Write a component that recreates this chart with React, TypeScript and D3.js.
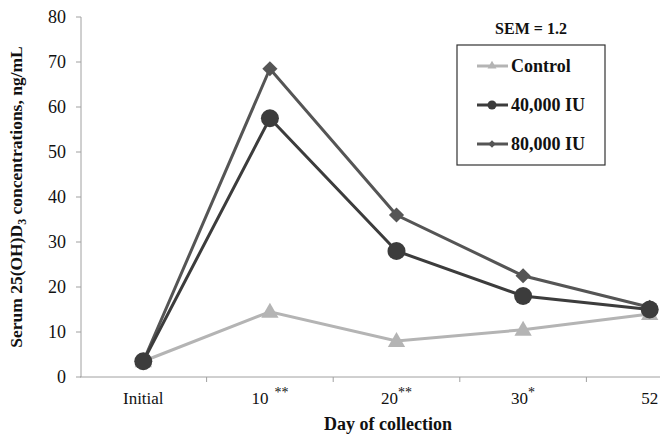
import React, { useRef, useEffect } from "react";
import * as d3 from "d3";

const categories = ["Initial", "10", "20", "30", "52"];
const stars = ["", "**", "**", "*", ""];
const starGap = [0, 6, 0, 0, 0];
const control = [3.5, 14.5, 8, 10.5, 14];
const iu40000 = [3.5, 57.5, 28, 18, 15];
const iu80000 = [3.5, 68.5, 36, 22.5, 15.5];
const yTicks = [0, 10, 20, 30, 40, 50, 60, 70, 80];

const W = 660;
const H = 436;
const M = { left: 80, top: 17, bottom: 377, right: 713 };
const FONT = "'Liberation Serif', 'Times New Roman', serif";

export default function App() {
  const svgRef = useRef<SVGSVGElement>(null);

  useEffect(() => {
    const svg = d3.select(svgRef.current);
    svg.selectAll("*").remove();

    const x = d3.scaleBand().domain(categories).range([M.left, M.right]);
    const y = d3.scaleLinear().domain([0, 80]).range([M.bottom, M.top]);
    const cx = (i: number) => (x(categories[i]) as number) + x.bandwidth() / 2;

    // y axis
    const gy = svg.append("g").attr("transform", `translate(${M.left + 1},0)`);
    gy.append("line").attr("y1", y(80)).attr("y2", y(0)).attr("stroke", "#a0a0a0");
    yTicks.forEach((t) => {
      gy.append("line").attr("x1", -5).attr("x2", 0).attr("y1", y(t)).attr("y2", y(t)).attr("stroke", "#a0a0a0");
      gy.append("text").attr("x", -15).attr("y", y(t)).attr("dy", "0.35em")
        .attr("text-anchor", "end").attr("font-family", FONT).attr("font-size", 18).attr("fill", "#111").text(t);
    });

    // x axis
    const gx = svg.append("g");
    gx.append("line").attr("x1", M.left).attr("x2", M.right).attr("y1", y(0)).attr("y2", y(0)).attr("stroke", "#a0a0a0");
    categories.forEach((c, i) => {
      const xe = (x(c) as number) + x.bandwidth();
      gx.append("line").attr("x1", xe).attr("x2", xe).attr("y1", y(0)).attr("y2", y(0) + 5).attr("stroke", "#a0a0a0");
      const t = gx.append("text").attr("x", cx(i)).attr("y", 404).attr("text-anchor", "middle")
        .attr("font-family", FONT).attr("font-size", 17).attr("fill", "#111");
      t.append("tspan").text(c);
      if (stars[i]) t.append("tspan").attr("dx", starGap[i]).attr("dy", -7).attr("font-size", 14)
        .attr("fill", "#111").text(stars[i]);
    });

    // axis titles
    svg.append("text").attr("x", 388).attr("y", 430).attr("text-anchor", "middle")
      .attr("font-family", FONT).attr("font-weight", "bold").attr("font-size", 18).attr("fill", "#111").text("Day of collection");
    const yl = svg.append("text").attr("transform", `translate(22,${(y(0) + y(80)) / 2}) rotate(-90)`)
      .attr("text-anchor", "middle").attr("font-family", FONT).attr("font-weight", "bold").attr("font-size", 17.5).attr("fill", "#111");
    yl.append("tspan").text("Serum 25(OH)D");
    yl.append("tspan").attr("dy", 4).attr("font-size", 12).text("3");
    yl.append("tspan").attr("dy", -4).text(" concentrations, ng/mL");

    const line = d3.line<number>().x((_, i) => cx(i)).y((d) => y(d));
    const tri = d3.symbol().type(d3.symbolTriangle).size(130);
    const sq = d3.symbol().type(d3.symbolSquare).size(115);

    // Control
    svg.append("path").attr("d", line(control)).attr("fill", "none").attr("stroke", "#b4b4b4").attr("stroke-width", 3);
    svg.selectAll(".tri").data(control).enter().append("path")
      .attr("d", tri()).attr("transform", (d, i) => `translate(${cx(i)},${y(d) + 1})`).attr("fill", "#b4b4b4");

    // 80,000
    svg.append("path").attr("d", line(iu80000)).attr("fill", "none").attr("stroke", "#555").attr("stroke-width", 3);
    svg.selectAll(".dia").data(iu80000).enter().append("path")
      .attr("d", sq()).attr("transform", (d, i) => `translate(${cx(i)},${y(d)}) rotate(45)`).attr("fill", "#555");

    // 40,000
    svg.append("path").attr("d", line(iu40000)).attr("fill", "none").attr("stroke", "#3c3c3c").attr("stroke-width", 3);
    svg.selectAll(".circ").data(iu40000).enter().append("circle")
      .attr("cx", (d, i) => cx(i)).attr("cy", (d) => y(d)).attr("r", 9).attr("fill", "#3c3c3c");

    // legend
    svg.append("text").attr("x", 531).attr("y", 34).attr("text-anchor", "middle")
      .attr("font-family", FONT).attr("font-weight", "bold").attr("font-size", 16).attr("fill", "#111").text("SEM = 1.2");
    svg.append("rect").attr("x", 457).attr("y", 45).attr("width", 148).attr("height", 120)
      .attr("fill", "white").attr("stroke", "#333").attr("stroke-width", 1.2);
    const items = [
      { name: "Control", color: "#b4b4b4", sym: "tri" },
      { name: "40,000 IU", color: "#3c3c3c", sym: "circ" },
      { name: "80,000 IU", color: "#555", sym: "dia" },
    ];
    items.forEach((it, i) => {
      const ly = 66 + i * 39;
      svg.append("line").attr("x1", 477).attr("x2", 508).attr("y1", ly).attr("y2", ly)
        .attr("stroke", it.color).attr("stroke-width", 3);
      if (it.sym === "circ") svg.append("circle").attr("cx", 492).attr("cy", ly).attr("r", 4.5).attr("fill", it.color);
      else if (it.sym === "tri") svg.append("path").attr("d", d3.symbol().type(d3.symbolTriangle).size(35)())
        .attr("transform", `translate(492,${ly})`).attr("fill", it.color);
      else svg.append("path").attr("d", d3.symbol().type(d3.symbolSquare).size(28)())
        .attr("transform", `translate(492,${ly}) rotate(45)`).attr("fill", it.color);
      svg.append("text").attr("x", 511).attr("y", ly).attr("dy", "0.35em")
        .attr("font-family", FONT).attr("font-weight", "bold").attr("font-size", 18).attr("fill", "#111").text(it.name);
    });
  }, []);

  return (
    <svg ref={svgRef} width={W} height={H}
      style={{ position: "fixed", left: 0, top: 0, background: "white" }} />
  );
}
